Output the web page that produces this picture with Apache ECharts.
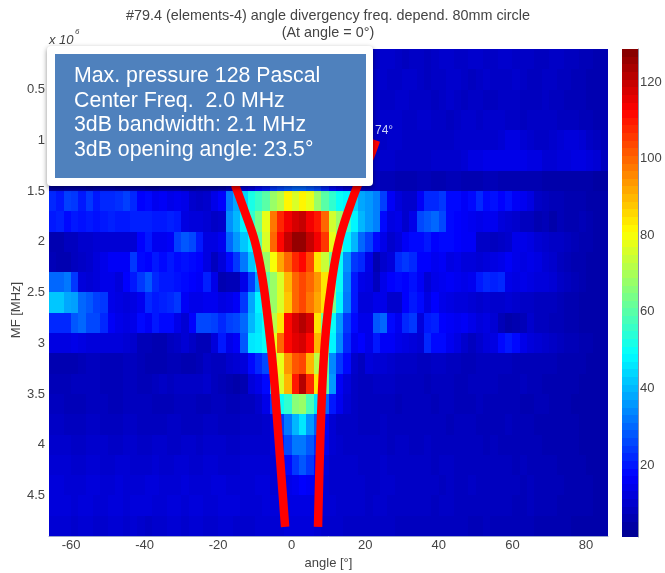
<!DOCTYPE html>
<html>
<head>
<meta charset="utf-8">
<title>angle divergency</title>
<script src="https://cdn.jsdelivr.net/npm/echarts@6/dist/echarts.min.js"></script>
<style>
  html, body { margin: 0; padding: 0; background: #fff; }
  #chart { width: 665px; height: 573px; }
  /* the reference is a soft, rescaled scan */
  #chart canvas { filter: blur(0.7px); }
</style>
</head>
<body>
<div id="chart"></div>
<script>
const angles = [-65,-63,-61,-59,-57,-55,-53,-51,-49,-47,-45,-43,-41,-39,-37,-35,-33,-31,-29,-27,-25,-23,-21,-19,-17,-15,-13,-11,-9,-7,-5,-3,-1,1,3,5,7,9,11,13,15,17,19,21,23,25,27,29,31,33,35,37,39,41,43,45,47,49,51,53,55,57,59,61,63,65,67,69,71,73,75,77,79,81,83,85]
const freqs = [0.2,0.4,0.6,0.8,1.0,1.2,1.4,1.6,1.8,2.0,2.2,2.4,2.6,2.8,3.0,3.2,3.4,3.6,3.8,4.0,4.2,4.4,4.6,4.8]

// one row per frequency, values in Pascal (left part of the top rows sits behind the text box)
const mf02 = [8,8,8,9,9,8,8,9,9,8,  8,8,9,9,8,8,9,8,8,9,  9,8,8,8,9,9,10,10,10,10,  11,11,12,12,12,11,11,10,10,9,  9,9,9,8,9,10,10,9,8,9,  9,8,9,10,10,9,9,10,10,9,  9,10,10,9,9,9,8,8,9,9,  8,8,7,7,6,6]
const mf04 = [8,9,9,9,8,8,9,9,8,8,  9,9,9,8,8,9,9,9,8,8,  9,9,8,9,9,10,10,11,11,12,  12,13,13,14,13,12,12,11,10,10,  10,9,9,9,10,10,9,9,10,10,  9,8,9,9,10,10,9,8,9,10,  9,9,9,10,9,8,8,9,9,8,  8,7,7,6,6,6]
const mf06 = [9,9,9,8,8,9,9,9,8,9,  9,8,9,9,9,8,8,9,9,9,  8,9,9,9,10,10,11,11,12,12,  13,14,15,15,14,14,13,12,11,10,  9,9,10,10,10,9,9,10,10,9,  9,9,8,9,10,9,8,9,9,8,  8,9,9,9,8,8,8,9,8,8,  7,7,7,6,6,6]
const mf08 = [9,8,9,9,9,8,9,9,9,8,  8,9,9,9,8,9,9,8,9,9,  9,9,9,10,10,11,11,12,12,13,  14,15,16,16,15,15,14,13,12,11,  10,10,10,9,9,10,10,10,9,9,  10,10,9,9,8,9,10,10,9,10,  10,10,9,9,8,9,9,9,9,8,  8,8,7,7,6,6]
const mf10 = [9,9,10,9,9,10,9,9,10,9,  10,9,9,10,9,9,10,10,9,9,  10,10,10,11,11,12,12,13,14,15,  16,17,18,18,18,17,16,14,13,12,  10,10,11,10,9,9,10,10,9,9,  9,9,9,9,9,10,10,10,10,10,  10,11,13,13,11,10,9,9,10,11,  12,12,11,9,8,7]
const mf12 = [10,10,10,9,10,10,10,10,9,10,  10,10,10,10,9,10,10,10,10,10,  11,11,11,12,12,13,14,15,16,17,  19,20,22,22,22,21,20,18,16,14,  11,10,11,10,9,10,10,9,9,9,  9,9,10,10,10,10,11,13,13,14,  14,14,14,14,14,13,13,11,11,12,  12,13,13,12,11,8]
const mf14 = [4,4,5,5,5,4,5,5,5,4,  4,5,5,4,4,5,5,5,4,4,  5,5,5,6,8,10,12,14,18,20,  24,26,28,30,30,28,26,22,18,15,  12,10,9,8,8,7,7,6,6,6,  7,7,6,6,7,7,6,6,6,7,  7,6,6,6,6,6,6,5,5,5,  5,5,5,5,4,4]
const mf16 = [22,20,25,24,20,24,20,22,22,23,  25,22,17,18,15,16,14,15,14,10,  9,10,14,17,32,38,44,52,56,60,  68,72,82,76,82,78,68,60,55,50,  48,44,38,36,33,25,16,12,10,10,  16,22,22,24,18,18,16,18,22,18,  19,17,19,16,15,13,9,8,7,7,  6,6,6,5,5,5]
const mf18 = [20,21,18,20,19,20,19,20,21,20,  20,21,21,21,20,20,21,20,13,12,  12,11,9,10,35,40,48,55,64,78,  98,108,114,118,120,114,110,100,75,68,  55,48,40,36,33,18,13,14,10,14,  26,28,30,26,18,17,16,15,14,15,  15,12,11,10,8,8,6,7,5,7,  6,6,7,6,5,5]
const mf20 = [6,6,8,8,10,10,11,11,11,11,  11,11,17,20,15,15,16,25,28,26,  20,13,13,15,30,36,42,48,60,76,  100,112,120,126,126,120,114,106,78,62,  48,40,30,25,18,14,10,12,16,18,  18,20,17,18,18,17,16,16,9,9,  8,9,10,14,14,13,11,10,9,9,  8,7,6,6,5,5]
const mf22 = [7,6,6,8,9,10,12,14,16,16,  16,24,18,17,20,18,20,18,19,18,  17,13,8,12,18,24,32,42,48,68,  80,92,100,108,112,104,84,74,62,50,  35,24,22,14,6,10,12,22,24,22,  17,17,15,16,13,14,12,12,11,12,  13,14,16,14,13,14,13,11,10,8,  7,6,6,5,5,5]
const mf24 = [30,30,32,24,12,11,12,14,14,12,  17,20,24,28,22,20,20,19,18,17,  16,21,14,6,7,7,14,25,38,60,  68,76,90,100,104,100,94,84,66,50,  33,20,14,13,8,14,17,18,17,19,  16,11,14,15,16,15,14,15,20,22,  21,22,14,13,14,13,12,12,11,9,  8,7,6,5,5,5]
const mf26 = [42,42,38,37,30,28,25,24,14,13,  12,13,15,22,20,21,22,24,16,14,  14,15,15,13,14,16,24,38,48,58,  68,76,88,100,104,98,92,84,64,48,  32,20,12,12,14,14,10,10,17,20,  18,13,17,14,13,12,12,11,10,11,  10,10,11,10,9,9,8,8,8,7,  6,6,5,5,5,5]
const mf28 = [22,22,22,28,30,26,26,22,16,14,  13,14,18,16,20,18,18,14,11,17,  26,26,25,22,25,26,30,40,46,50,  72,84,112,118,122,118,84,62,50,36,  24,18,14,14,28,30,18,15,22,24,  12,20,21,17,16,15,16,14,12,13,  11,7,5,6,7,10,8,8,7,7,  6,6,5,5,5,5]
const mf30 = [13,13,13,14,13,12,12,12,12,12,  11,10,7,7,6,6,8,9,11,9,  7,7,12,20,14,16,28,46,47,50,  78,100,112,116,118,112,90,68,48,34,  22,15,17,14,20,16,16,14,13,12,  11,22,18,18,15,13,10,8,10,12,  13,18,20,18,14,12,11,10,9,8,  7,7,6,6,5,5]
const mf32 = [6,6,6,6,7,8,8,7,7,7,  8,8,7,6,6,6,7,7,6,6,  7,9,8,8,10,11,12,18,22,26,  68,78,94,102,104,90,72,60,34,24,  18,10,8,12,11,11,10,9,9,9,  8,8,9,9,8,8,7,7,8,8,  8,8,8,7,7,7,7,7,7,6,  6,6,6,5,5,5]
const mf34 = [7,7,7,8,8,8,8,7,7,7,  8,8,7,7,8,9,8,9,9,9,  9,10,8,7,6,5,6,12,14,18,  42,76,90,110,122,108,84,60,36,16,  12,9,8,8,9,9,9,8,8,8,  8,7,8,8,8,7,7,8,8,8,  8,7,7,7,8,7,7,6,6,6,  6,6,5,5,5,5]
const mf36 = [8,8,7,7,7,8,8,8,7,7,  8,8,8,8,7,7,7,8,8,8,  7,7,8,8,7,7,8,8,10,14,  25,50,55,66,68,58,46,30,20,15,  11,9,8,8,8,8,8,7,8,8,  8,8,7,8,8,7,7,7,8,7,  7,7,7,7,6,6,7,7,6,6,  6,5,5,5,5,5]
const mf38 = [9,9,8,8,8,9,9,8,8,8,  9,9,8,8,8,8,9,9,8,8,  8,9,9,8,8,8,9,9,9,10,  12,24,32,40,46,36,28,16,11,9,  9,9,8,8,8,9,8,8,8,8,  8,8,8,8,7,8,8,8,7,7,  7,7,8,7,7,7,6,6,6,6,  6,6,5,5,5,5]
const mf40 = [10,10,10,9,9,10,10,10,9,9,  10,10,9,9,10,10,9,9,10,10,  9,10,10,10,9,9,10,10,10,10,  12,20,26,32,32,28,22,15,11,10,  9,9,9,9,9,9,8,9,9,8,  8,9,8,8,8,8,8,8,8,7,  8,7,7,7,7,7,7,6,6,6,  6,6,5,5,5,5]
const mf42 = [11,11,11,10,10,11,11,10,10,11,  11,10,10,10,11,10,10,11,11,10,  10,11,11,10,10,10,11,11,11,11,  11,13,18,24,28,24,18,12,10,10,  10,10,9,9,9,10,9,9,9,9,  9,9,8,9,9,8,8,8,8,8,  8,8,8,7,8,7,7,7,7,6,  6,6,6,5,5,5]
const mf44 = [12,12,11,11,11,12,12,11,11,12,  11,11,11,12,12,11,11,11,12,11,  11,11,12,12,11,11,11,11,12,12,  11,12,14,15,17,16,14,11,10,10,  10,10,10,9,9,10,10,9,9,9,  9,9,9,8,9,8,8,9,8,8,  8,8,8,8,7,8,7,7,7,7,  6,6,6,6,5,5]
const mf46 = [12,12,12,11,12,12,11,11,12,12,  11,12,12,12,11,11,12,12,11,12,  12,11,11,12,12,12,11,11,11,12,  12,12,13,13,13,13,12,11,11,10,  10,10,10,9,10,10,9,9,9,9,  9,9,8,9,9,8,8,8,8,8,  8,8,8,7,7,8,7,7,7,6,  6,6,6,6,5,5]
const mf48 = [11,11,11,10,11,11,10,10,11,11,  10,11,10,9,10,10,11,11,10,11,  11,10,10,11,11,10,10,10,11,11,  11,11,12,12,12,12,11,10,10,10,  9,9,9,9,9,9,9,8,8,8,  8,8,8,8,8,8,8,7,7,8,  7,7,7,7,7,7,6,6,6,6,  6,5,5,5,5,5]
const rows = [mf02,mf04,mf06,mf08,mf10,mf12,mf14,mf16,mf18,mf20,mf22,mf24,mf26,mf28,mf30,mf32,mf34,mf36,mf38,mf40,mf42,mf44,mf46,mf48]

// red 3dB outline, [angle, MHz]
const leftEdge = [[-15.4,1.44],[-12.7,1.71],[-10,2.0],[-8.1,2.33],[-6.7,2.70],[-5.1,3.23],[-3.7,3.88],[-1.8,4.81]]
const rightEdge = [[22.9,1.0],[21.3,1.16],[19.1,1.34],[16.7,1.56],[13.1,1.96],[11,2.36],[9.3,2.87],[8.2,3.51],[7.15,4.81]]

const xTicks = [-60,-40,-20,0,20,40,60,80]
const yTicks = [0.5,1,1.5,2,2.5,3,3.5,4,4.5]
const barTicks = [20,40,60,80,100,120]
const infoLines = ['Max. pressure 128 Pascal','Center Freq.  2.0 MHz','3dB bandwidth: 2.1 MHz','3dB opening angle: 23.5°']

const jet = ['#00008f','#0000ff','#0080ff','#00ffff','#80ff80','#ffff00','#ff8000','#ff0000','#800000']
const font = '"Liberation Sans", Arial, sans-serif'
const textColor = '#444'
const edgeColor = '#9aa4cc'

const cells = []
rows.forEach((row, r) => {
  row.forEach((v, c) => cells.push([angles[c], freqs[r], v]))
})

const barLevels = []
for (let i = 0; i < 64; i++) barLevels.push([0.5, 1.2 + (i + 0.5) * (127.4 / 64), 1.2 + (i + 0.5) * (127.4 / 64)])

function cellRenderer(halfX, halfY) {
  return (params, api) => {
    const a = api.coord([api.value(0) - halfX, api.value(1) - halfY])
    const b = api.coord([api.value(0) + halfX, api.value(1) + halfY])
    const x = Math.round(Math.min(a[0], b[0]))
    const y = Math.round(Math.min(a[1], b[1]))
    return {
      type: 'rect',
      shape: {
        x, y,
        width: Math.round(Math.max(a[0], b[0])) - x,
        height: Math.round(Math.max(a[1], b[1])) - y
      },
      style: { fill: api.visual('color') }
    }
  }
}

const infoText = infoLines.map((line, i) => ({
  type: 'text',
  z: 103,
  x: 74,
  y: 76 + i * 24.7,
  style: { text: line, fill: '#fff', font: '21.3px ' + font, verticalAlign: 'middle' }
}))

const chart = echarts.init(document.getElementById('chart'), null, { renderer: 'canvas' })
chart.setOption({
  animation: false,
  title: {
    text: '#79.4 (elements-4) angle divergency freq. depend. 80mm circle\n(At angle = 0°)',
    left: 323,
    top: 3,
    textAlign: 'center',
    textStyle: { fontFamily: font, fontSize: 14.4, fontWeight: 'normal', color: textColor, lineHeight: 17 }
  },
  grid: [
    { left: 49, top: 49, width: 559, height: 487, outerBoundsMode: 'none' },
    { left: 622, top: 49, width: 16, height: 488, outerBoundsMode: 'none' }
  ],
  xAxis: [
    {
      type: 'value',
      gridIndex: 0,
      min: -66,
      max: 86,
      splitLine: { show: false },
      axisLine: { onZero: false, lineStyle: { color: edgeColor } },
      axisTick: { inside: true, length: 4, lineStyle: { color: '#00006e' }, customValues: xTicks },
      axisLabel: { customValues: xTicks, color: textColor, fontFamily: font, fontSize: 13, margin: 3 },
      name: 'angle [°]',
      nameLocation: 'middle',
      nameGap: 20,
      nameTextStyle: { color: textColor, fontFamily: font, fontSize: 13 }
    },
    {
      type: 'value',
      gridIndex: 1,
      min: 0,
      max: 1,
      splitLine: { show: false },
      axisLine: { show: false },
      axisTick: { show: false },
      axisLabel: { show: false }
    }
  ],
  yAxis: [
    {
      type: 'value',
      gridIndex: 0,
      inverse: true,
      min: 0.1,
      max: 4.9,
      splitLine: { show: false },
      axisLine: { onZero: false, lineStyle: { color: edgeColor } },
      axisTick: { inside: true, length: 4, lineStyle: { color: '#00006e' }, customValues: yTicks },
      axisLabel: { customValues: yTicks, color: textColor, fontFamily: font, fontSize: 13, margin: 4 }
    },
    {
      type: 'value',
      gridIndex: 1,
      position: 'right',
      min: 1.2,
      max: 128.6,
      splitLine: { show: false },
      axisLine: { onZero: false, lineStyle: { color: '#8890a8' } },
      axisTick: { inside: true, length: 3, lineStyle: { color: '#555' }, customValues: barTicks },
      axisLabel: { customValues: barTicks, color: textColor, fontFamily: font, fontSize: 13, margin: 2 }
    }
  ],
  visualMap: {
    show: false,
    type: 'continuous',
    min: 1.2,
    max: 128.6,
    dimension: 2,
    seriesIndex: [0, 1],
    inRange: { color: jet }
  },
  series: [
    {
      type: 'custom',
      xAxisIndex: 0,
      yAxisIndex: 0,
      data: cells,
      progressive: 0,
      silent: true,
      renderItem: cellRenderer(1, 0.1),
      encode: { x: 0, y: 1 }
    },
    {
      type: 'custom',
      xAxisIndex: 1,
      yAxisIndex: 1,
      data: barLevels,
      silent: true,
      renderItem: cellRenderer(0.5, 1.05),
      encode: { x: 0, y: 1 }
    },
    {
      type: 'line',
      xAxisIndex: 0,
      yAxisIndex: 0,
      data: leftEdge,
      smooth: 0.4,
      symbol: 'none',
      silent: true,
      z: 5,
      lineStyle: { color: '#ff0000', width: 8.5, cap: 'butt' }
    },
    {
      type: 'line',
      xAxisIndex: 0,
      yAxisIndex: 0,
      data: rightEdge,
      smooth: 0.4,
      symbol: 'none',
      silent: true,
      z: 5,
      lineStyle: { color: '#ff0000', width: 8.5, cap: 'butt' }
    }
  ],
  graphic: [
    { type: 'text', z: 50, x: 375, y: 125, style: { text: '74°', fill: '#cdd2f5', font: '12px ' + font } },
    { type: 'text', z: 50, x: 49, y: 34, style: { text: 'x 10', fill: textColor, font: 'italic 13px ' + font } },
    { type: 'text', z: 50, x: 75, y: 28, style: { text: '6', fill: textColor, font: 'italic 8px ' + font } },
    {
      type: 'text',
      z: 50,
      x: 16,
      y: 310,
      rotation: Math.PI / 2,
      style: { text: 'MF [MHz]', fill: textColor, font: '13px ' + font, align: 'center', verticalAlign: 'middle' }
    },
    {
      type: 'rect',
      z: 101,
      shape: { x: 47, y: 46, width: 326, height: 140, r: 4 },
      style: { fill: '#fff', shadowBlur: 5, shadowColor: 'rgba(0,0,0,0.45)', shadowOffsetY: 2 }
    },
    {
      type: 'rect',
      z: 102,
      shape: { x: 55, y: 54, width: 311, height: 124 },
      style: { fill: '#4f81bd' }
    },
    ...infoText
  ]
})

window.addEventListener('resize', () => chart.resize())
</script>
</body>
</html>
